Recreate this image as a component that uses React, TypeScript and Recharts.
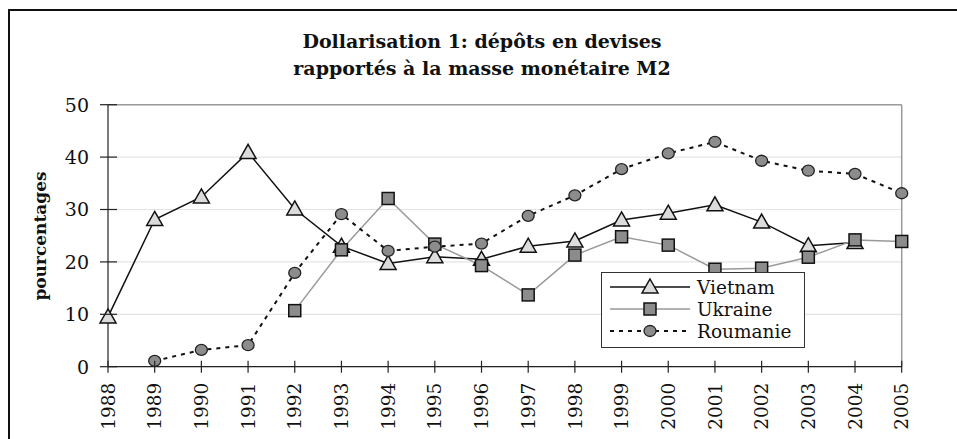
import React from "react";
import {
  LineChart,
  Line,
  XAxis,
  YAxis,
  CartesianGrid,
  ReferenceLine,
} from "recharts";

const years = [
  1988, 1989, 1990, 1991, 1992, 1993, 1994, 1995, 1996, 1997, 1998, 1999,
  2000, 2001, 2002, 2003, 2004, 2005,
];
const vietnam = [
  9.5, 28.1, 32.4, 40.9, 30.1, 23.0, 19.7, 21.0, 20.5, 23.0, 24.0, 28.0,
  29.3, 30.9, 27.6, 23.1, 23.7, null,
];
const ukraine = [
  null, null, null, null, 10.7, 22.3, 32.1, 23.4, 19.3, 13.7, 21.3, 24.8,
  23.2, 18.6, 18.8, 20.9, 24.2, 23.9,
];
const roumanie = [
  null, 1.1, 3.2, 4.1, 17.9, 29.1, 22.1, 22.9, 23.5, 28.8, 32.7, 37.7, 40.7,
  42.9, 39.3, 37.4, 36.8, 33.1,
];
const yTicks = [0, 10, 20, 30, 40, 50];
const titleLines = [
  "Dollarisation 1: dépôts en devises",
  "rapportés à la masse monétaire M2",
];
const yLabel = "pourcentages";
const seriesNames = ["Vietnam", "Ukraine", "Roumanie"];

const data = years.map((y, i) => ({
  year: y,
  vietnam: vietnam[i],
  ukraine: ukraine[i],
  roumanie: roumanie[i],
}));

const FONT = "'DejaVu Serif', serif";

const YTick = (props: any) => {
  const { x, y, payload } = props;
  return (
    <g>
      <line x1={x - 8} x2={x + 9} y1={y} y2={y} stroke="#222" strokeWidth={1.2} />
      <text
        x={x - 19}
        y={y}
        dy="0.36em"
        textAnchor="end"
        style={{ fontFamily: FONT, fontSize: 19 }}
        fill="#111"
      >
        {payload.value}
      </text>
    </g>
  );
};

const XTick = (props: any) => {
  const { x, y, payload } = props;
  return (
    <g>
      <line x1={x} x2={x} y1={y - 6} y2={y + 6} stroke="#222" strokeWidth={1.2} />
      <text
        x={x}
        y={y + 16}
        dy="0.36em"
        textAnchor="end"
        transform={`rotate(-90, ${x}, ${y + 16})`}
        style={{ fontFamily: FONT, fontSize: 18.5 }}
        fill="#111"
      >
        {payload.value}
      </text>
    </g>
  );
};

const Triangle = (cx: number, cy: number, key?: any) => (
  <polygon
    key={key}
    points={`${cx},${cy - 8} ${cx + 8},${cy + 6} ${cx - 8},${cy + 6}`}
    fill="#dcdcdc"
    stroke="#111"
    strokeWidth={1.5}
  />
);
const Square = (cx: number, cy: number, key?: any) => (
  <rect
    key={key}
    x={cx - 6}
    y={cy - 6}
    width={12}
    height={12}
    fill="#8c8c8c"
    stroke="#111"
    strokeWidth={1.5}
  />
);
const Circle = (cx: number, cy: number, key?: any) => (
  <ellipse
    key={key}
    cx={cx}
    cy={cy}
    rx={6}
    ry={5.5}
    fill="#8c8c8c"
    stroke="#222"
    strokeWidth={1.3}
  />
);

const makeDot = (shape: (cx: number, cy: number, key?: any) => any) => (p: any) => {
  if (p.cy == null || p.value == null || (Array.isArray(p.value) && p.value[1] == null)) {
    return <g key={p.index} />;
  }
  return shape(p.cx, p.cy, p.index);
};

const legendRows = [
  { name: seriesNames[0], stroke: "#111", dash: undefined, w: 1.5, shape: Triangle },
  { name: seriesNames[1], stroke: "#999", dash: undefined, w: 1.5, shape: Square },
  { name: seriesNames[2], stroke: "#111", dash: "4 5", w: 2, shape: Circle },
];

const LegendBox = () => (
  <svg
    width={205}
    height={77}
    style={{ position: "absolute", left: 601, top: 272, display: "block" }}
  >
    <rect x={0.5} y={0.5} width={203} height={75} fill="#fff" stroke="#333" strokeWidth={1} />
    {legendRows.map((r, i) => {
      const cy = 15 + i * 22;
      return (
        <g key={r.name}>
          <line x1={9} x2={89} y1={cy} y2={cy} stroke={r.stroke} strokeWidth={r.w} strokeDasharray={r.dash} />
          {r.shape(49, cy)}
          <text x={96} y={cy} dy="0.36em" style={{ fontFamily: FONT, fontSize: 18.5 }} fill="#111">
            {r.name}
          </text>
        </g>
      );
    })}
  </svg>
);

export default function App() {
  return (
    <div
      style={{
        position: "absolute",
        left: 0,
        top: 0,
        width: 957,
        height: 439,
        overflow: "hidden",
        background: "#fff",
      }}
    >
      <div
        style={{
          position: "absolute",
          left: 8,
          top: 9,
          width: 1200,
          height: 600,
          borderLeft: "2px solid #111",
          borderTop: "2px solid #111",
        }}
      />
      <svg
        width={957}
        height={439}
        style={{ position: "absolute", left: 0, top: 0, pointerEvents: "none" }}
      >
        {titleLines.map((t, i) => (
          <text
            key={i}
            x={482}
            y={48 + i * 27}
            textAnchor="middle"
            style={{ fontFamily: FONT, fontWeight: "bold", fontSize: 19 }}
            fill="#111"
          >
            {t}
          </text>
        ))}
        <text
          x={40}
          y={236}
          dy="0.36em"
          textAnchor="middle"
          transform="rotate(-90, 40, 236)"
          style={{ fontFamily: FONT, fontWeight: "bold", fontSize: 17 }}
          fill="#111"
        >
          {yLabel}
        </text>
      </svg>
      <div style={{ position: "absolute", left: 0, top: 0 }}>
        <LineChart
          width={957}
          height={439}
          data={data}
          margin={{ top: 104.7, right: 55.3, left: 48, bottom: 12.3 }}
        >
          <CartesianGrid vertical={false} stroke="#e4e4e4" strokeWidth={1.2} />
          <ReferenceLine y={50} stroke="#9a9a9a" strokeWidth={1.5} />
          <ReferenceLine x={2005} stroke="#9a9a9a" strokeWidth={1.5} />
          <XAxis
            dataKey="year"
            type="category"
            interval={0}
            height={60}
            tickSize={0}
            tickMargin={0}
            tickLine={false}
            axisLine={{ stroke: "#222", strokeWidth: 1.2 }}
            tick={XTick}
          />
          <YAxis
            domain={[0, 50]}
            ticks={yTicks}
            width={60}
            tickSize={0}
            tickMargin={0}
            tickLine={false}
            axisLine={{ stroke: "#222", strokeWidth: 1.2 }}
            tick={YTick}
          />
          <Line
            dataKey="vietnam"
            name={seriesNames[0]}
            stroke="#111"
            strokeWidth={1.5}
            dot={makeDot(Triangle)}
            isAnimationActive={false}
          />
          <Line
            dataKey="ukraine"
            name={seriesNames[1]}
            stroke="#999"
            strokeWidth={1.5}
            dot={makeDot(Square)}
            isAnimationActive={false}
          />
          <Line
            dataKey="roumanie"
            name={seriesNames[2]}
            stroke="#111"
            strokeWidth={2}
            strokeDasharray="4 5"
            dot={makeDot(Circle)}
            isAnimationActive={false}
          />
        </LineChart>
      </div>
      <LegendBox />
    </div>
  );
}
